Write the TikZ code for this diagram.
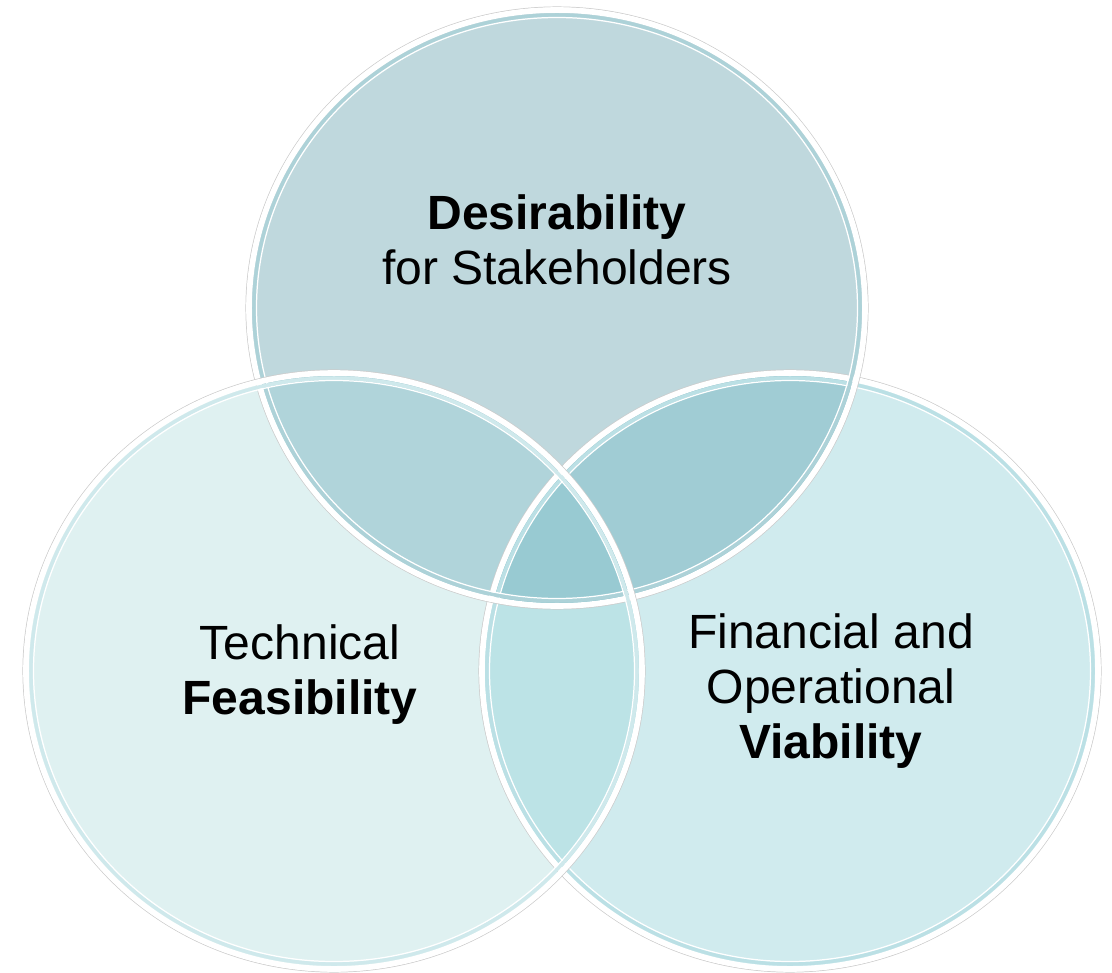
\documentclass[tikz,border=0pt]{standalone}
\usepackage{fontspec}
\setmainfont{Liberation Sans}
\definecolor{cT}{HTML}{BFD8DD}
\definecolor{cL}{HTML}{DFF1F1}
\definecolor{cR}{HTML}{D0EBEE}
\definecolor{cTL}{HTML}{B0D4DA}
\definecolor{cTR}{HTML}{A0CCD4}
\definecolor{cLR}{HTML}{BCE3E6}
\definecolor{cTLR}{HTML}{98CAD2}
\definecolor{bT}{HTML}{ADD2D8}
\definecolor{bL}{HTML}{CFE9EC}
\definecolor{bR}{HTML}{BBE0E5}
\begin{document}
\begin{tikzpicture}[x=0.01cm,y=-0.01cm,
  lbl/.style={align=center,font=\fontsize{13.66}{15.65}\selectfont,text=black},
  shadowline/.style={draw=black!20,line width=0.3pt},
  whiteband/.style={draw=white,line width=1.6pt},
  thinwhite/.style={draw=white,line width=0.35pt}]
\useasboundingbox (0,0) rectangle (1112,973);
\coordinate (T) at (557,308);
\coordinate (L) at (334,671);
\coordinate (R) at (790,671);
% base fills
\fill[cT] (T) ellipse [x radius=306, y radius=296];
\fill[cL] (L) ellipse [x radius=306, y radius=296];
\fill[cR] (R) ellipse [x radius=306, y radius=296];
% overlaps
\begin{scope}
  \clip (T) ellipse [x radius=306, y radius=296];
  \fill[cTL] (L) ellipse [x radius=306, y radius=296];
  \fill[cTR] (R) ellipse [x radius=306, y radius=296];
\end{scope}
\begin{scope}
  \clip (L) ellipse [x radius=306, y radius=296];
  \fill[cLR] (R) ellipse [x radius=306, y radius=296];
\end{scope}
\begin{scope}
  \clip (T) ellipse [x radius=306, y radius=296];
  \clip (L) ellipse [x radius=306, y radius=296];
  \fill[cTLR] (R) ellipse [x radius=306, y radius=296];
\end{scope}
% rings
\foreach \c/\b in {R/bR,T/bT,L/bL}{
  \draw[shadowline] (\c) ellipse [x radius=311, y radius=301];
  \draw[whiteband] (\c) ellipse [x radius=308, y radius=298];
  \draw[draw=\b,line width=1.0pt] (\c) ellipse [x radius=303, y radius=293];
  \draw[thinwhite] (\c) ellipse [x radius=300.5, y radius=290.5];
}
% labels
\node[lbl] (desir) at (557,240) {\textbf{Desirability}\\for Stakeholders};
\node[lbl] (tech) at (300,675) {Technical\\\textbf{Feasibility}};
\node[lbl] (fin) at (831,691) {Financial and\\Operational\\\textbf{Viability}};
\end{tikzpicture}
\end{document}
